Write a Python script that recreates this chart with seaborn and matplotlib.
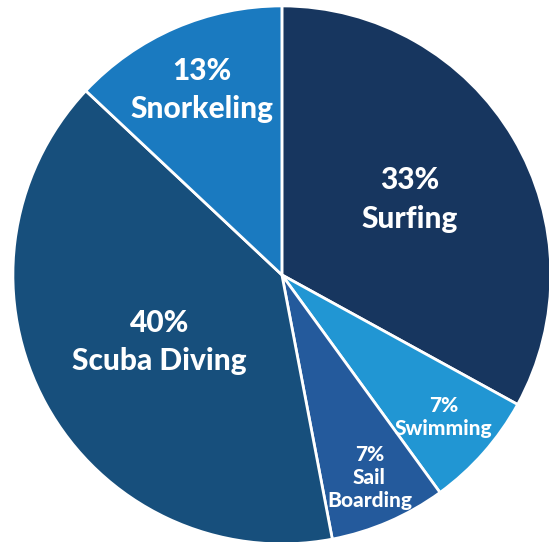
import numpy as np
import matplotlib
matplotlib.use("Agg")
import matplotlib.pyplot as plt
import seaborn as sns

categories = ["Surfing", "Swimming", "Sail\nBoarding", "Scuba Diving", "Snorkeling"]
values = [33, 7, 7, 40, 13]
colors = ["#17365f", "#2196d3", "#245a9c", "#174f7c", "#1a7ac0"]
label_r = [0.55, 0.80, 0.82, 0.52, 0.75]
font_sizes = [21.5, 15, 15, 21.5, 21.5]
line_sp = [1.45, 1.25, 1.25, 1.45, 1.45]

sns.set_theme(style="white")
plt.rcParams['font.family'] = ['Lato', 'DejaVu Sans']

fig = plt.figure(figsize=(5.49, 5.42), dpi=100)
ax = fig.add_axes([0, 0, 1, 1])
wedges, _ = ax.pie(values, colors=colors, startangle=90, counterclock=False,
                   wedgeprops=dict(edgecolor="white", linewidth=2))
for w, cat, v, r, fs, ls in zip(wedges, categories, values, label_r, font_sizes, line_sp):
    ang = np.deg2rad((w.theta1 + w.theta2) / 2)
    ax.text(r * np.cos(ang), r * np.sin(ang), f"{v}%\n{cat}", ha="center", va="center",
            color="white", fontsize=fs, fontweight=900, linespacing=ls)
ax.set_xlim(-1.048, 0.993)
ax.set_ylim(-0.993, 1.022)
ax.set_aspect("auto")
ax.axis("off")
fig.savefig("out.png", dpi=100, facecolor="white")
